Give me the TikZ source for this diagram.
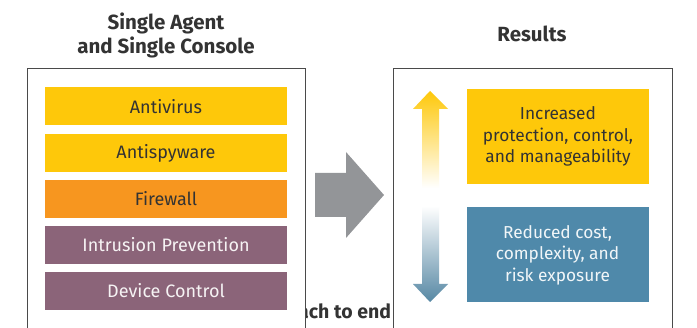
\documentclass[tikz,border=0pt]{standalone}
\usepackage{fontspec}
\setmainfont{Fira Sans}
\usetikzlibrary{positioning}
\definecolor{ylw}{HTML}{FEC80A}
\definecolor{org}{HTML}{F7961F}
\definecolor{plum}{HTML}{8B6479}
\definecolor{steel}{HTML}{4F89AA}
\definecolor{arrowgray}{HTML}{939598}
\definecolor{frame}{HTML}{4A4A4A}
\definecolor{darktxt}{HTML}{333333}
\tikzset{
  bar/.style={minimum width=242pt, minimum height=38pt, inner sep=0pt, font=\fontsize{18}{21}\selectfont},
  ybar/.style={bar, fill=ylw, text=darktxt},
  obar/.style={bar, fill=org, text=darktxt},
  pbar/.style={bar, fill=plum, text=white!92!plum},
  panel/.style={draw=frame, line width=1pt, fill=white},
  ttl/.style={font=\fontsize{20.5}{24}\selectfont\bfseries, text=darktxt, align=center},
  res/.style={minimum width=182pt, minimum height=95pt, inner sep=0pt, align=center, font=\fontsize{17.3}{21.5}\selectfont},
}
\begin{document}
\begin{tikzpicture}[x=1pt,y=-1pt]
\useasboundingbox (0,0) rectangle (697,328);
% partially hidden caption
\node[anchor=base west, inner sep=0pt, font=\fontsize{19.5}{22}\selectfont\bfseries, text=darktxt] (cap) at (298,319) {ach to end};
% panels
\draw[panel] (27,69) rectangle (305,330);
\draw[panel] (393,69) rectangle (672,330);
% titles
\node[ttl, anchor=base] (t1) at (166,54) {Single Agent\\and Single Console};
\node[ttl, anchor=base] (t2) at (532,42) {Results};
% bars
\node[ybar] (av) at (166,106.5) {Antivirus};
\node[ybar] (as) at (166,153) {Antispyware};
\node[obar] (fw) at (166,199) {Firewall};
\node[pbar] (ip) at (166,245) {Intrusion Prevention};
\node[pbar] (dc) at (166,291) {Device Control};
% big gray arrow
\fill[arrowgray] (315,173) -- (346,173) -- (346,152) -- (384,195) -- (346,238) -- (346,217) -- (315,217) -- cycle;
% double gradient arrow
\shade[top color=ylw, bottom color=white] (430,91) -- (448,109) -- (439,109) -- (439,188) -- (422,188) -- (422,109) -- (413,109) -- cycle;
\shade[top color=white, bottom color=steel!85!gray] (422,206) -- (439,206) -- (439,284) -- (448,284) -- (430,302) -- (413,284) -- (422,284) -- cycle;
% result boxes
\node[res, fill=ylw, text=darktxt] (inc) at (558,136.5) {Increased\\protection, control,\\and manageability};
\node[res, fill=steel, text=white!92!steel] (red) at (557.5,255) {Reduced cost,\\complexity, and\\risk exposure};
\end{tikzpicture}
\end{document}
